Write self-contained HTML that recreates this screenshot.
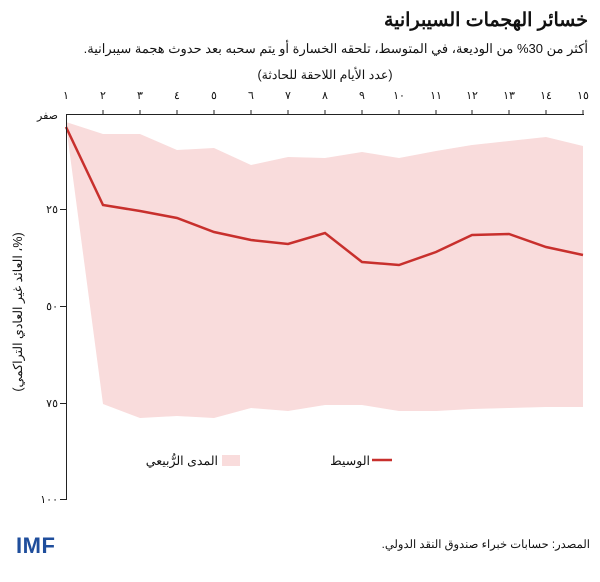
<!DOCTYPE html>
<html><head><meta charset="utf-8"><style>
body{margin:0;background:#fff;width:600px;height:577px;overflow:hidden}
svg text{font-family:"Liberation Sans","Noto Sans CJK SC",sans-serif;fill:#111}
</style></head><body>
<svg width="600" height="577" viewBox="0 0 600 577">
<text x="588" y="26" text-anchor="start" font-size="19" font-weight="bold" direction="rtl">خسائر الهجمات السيبرانية</text>
<text x="588" y="53" text-anchor="start" font-size="13" direction="rtl">أكثر من 30% من الوديعة، في المتوسط، تلحقه الخسارة أو يتم سحبه بعد حدوث هجمة سيبرانية.</text>
<text x="325" y="79" text-anchor="middle" font-size="12.5" direction="rtl">(عدد الأيام اللاحقة للحادثة)</text>
<polygon fill="#f9dcdc" points="66,122 103,134 140,134 177,150 214,148 251,165 288,157 325,158 362,152 399,158 436,151 472,145 509,141 546,137 583,146 583,407 546,407 509,408 472,409 436,411 399,411 362,405 325,405 288,411 251,408 214,418 177,416 140,418 103,404 66,125"/>
<polyline fill="none" stroke="#c8302d" stroke-width="2.5" points="66,127 103,205 140,211 177,218 214,232 251,240 288,244 325,233 362,262 399,265 436,252 472,235 509,234 546,247 583,255"/>
<g stroke="#222" stroke-width="1">
<line x1="66" y1="114.5" x2="584" y2="114.5"/>
<line x1="66.5" y1="114" x2="66.5" y2="500"/>
<line x1="60" y1="209.5" x2="66" y2="209.5"/><line x1="60" y1="306.5" x2="66" y2="306.5"/><line x1="60" y1="403.5" x2="66" y2="403.5"/><line x1="60" y1="499.5" x2="66" y2="499.5"/>
<line x1="103" y1="110" x2="103" y2="114"/><line x1="140" y1="110" x2="140" y2="114"/><line x1="177" y1="110" x2="177" y2="114"/><line x1="214" y1="110" x2="214" y2="114"/><line x1="251" y1="110" x2="251" y2="114"/><line x1="288" y1="110" x2="288" y2="114"/><line x1="325" y1="110" x2="325" y2="114"/><line x1="362" y1="110" x2="362" y2="114"/><line x1="399" y1="110" x2="399" y2="114"/><line x1="436" y1="110" x2="436" y2="114"/><line x1="472" y1="110" x2="472" y2="114"/><line x1="509" y1="110" x2="509" y2="114"/><line x1="546" y1="110" x2="546" y2="114"/><line x1="583" y1="110" x2="583" y2="114"/>
</g>
<g font-size="11" text-anchor="middle">
<text x="66" y="99">١</text><text x="103" y="99">٢</text><text x="140" y="99">٣</text><text x="177" y="99">٤</text><text x="214" y="99">٥</text><text x="251" y="99">٦</text><text x="288" y="99">٧</text><text x="325" y="99">٨</text><text x="362" y="99">٩</text><text x="399" y="99">١٠</text><text x="436" y="99">١١</text><text x="472" y="99">١٢</text><text x="509" y="99">١٣</text><text x="546" y="99">١٤</text><text x="583" y="99">١٥</text>
</g>
<g font-size="11" text-anchor="end">
<text x="58" y="119">صفر</text><text x="58" y="213">٢٥</text><text x="58" y="310">٥٠</text><text x="58" y="407">٧٥</text><text x="58" y="503">١٠٠</text>
</g>
<text transform="translate(22,312) rotate(-90)" text-anchor="middle" font-size="12.5" direction="rtl">(%، العائد غير العادي التراكمي)</text>
<rect x="222" y="455" width="18" height="11" fill="#f9dcdc"/>
<text x="218" y="465" text-anchor="start" font-size="12.5" direction="rtl">المدى الرُّبيعي</text>
<line x1="372" y1="460" x2="392" y2="460" stroke="#c8302d" stroke-width="2.5"/>
<text x="370" y="465" text-anchor="start" font-size="12.5" direction="rtl">الوسيط</text>
<text x="16" y="553" font-size="22" font-weight="bold" style="fill:#1f4e9c" letter-spacing="0.5">IMF</text>
<text x="590" y="548" text-anchor="start" font-size="11.5" direction="rtl">المصدر: حسابات خبراء صندوق النقد الدولي.</text>
</svg>
</body></html>
